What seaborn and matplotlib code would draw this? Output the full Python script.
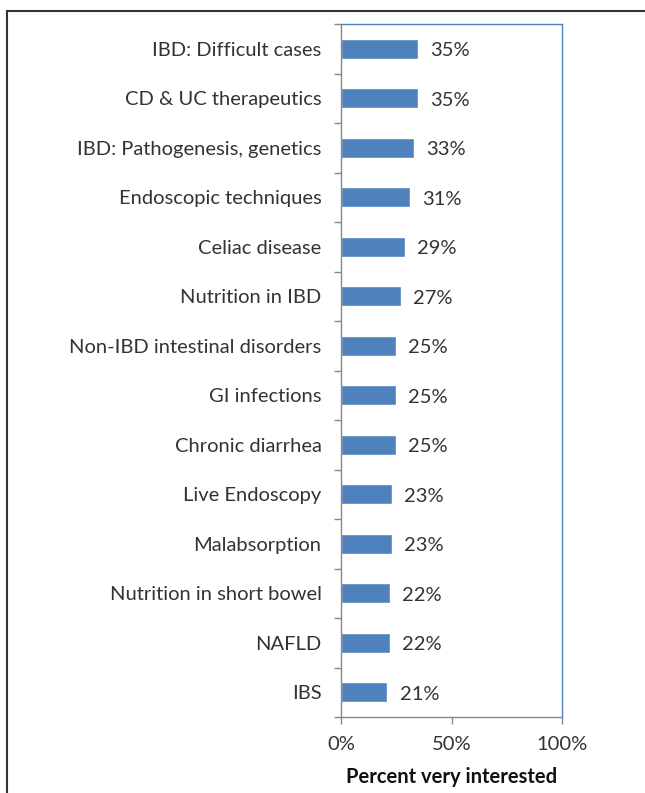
import matplotlib
matplotlib.use("Agg")
import matplotlib.pyplot as plt
import seaborn as sns
import pandas as pd
from matplotlib.lines import Line2D
from matplotlib.ticker import FixedLocator

sns.set_theme(style="white")
plt.rcParams['font.family'] = ['Lato', 'DejaVu Sans']

topics = [
    "IBD: Difficult cases", "CD & UC therapeutics", "IBD: Pathogenesis, genetics",
    "Endoscopic techniques", "Celiac disease", "Nutrition in IBD",
    "Non-IBD intestinal disorders", "GI infections", "Chronic diarrhea",
    "Live Endoscopy", "Malabsorption", "Nutrition in short bowel", "NAFLD", "IBS",
]
pct = [35, 35, 33, 31, 29, 27, 25, 25, 25, 23, 23, 22, 22, 21]
xticks = [0, 50, 100]

df = pd.DataFrame({"topic": topics, "pct": pct})
fs = 14.5

fig = plt.figure(figsize=(6.45, 7.93), dpi=100)
ax = fig.add_axes([341 / 645, 1 - 717 / 793, 221 / 645, 693 / 793])

sns.barplot(data=df, x="pct", y="topic", orient="h", color="#4F81BD",
            width=0.4, saturation=1, ax=ax)

for i, v in enumerate(pct):
    ax.text(v + 5.5, i + 0.04, f"{v}%", va="center", ha="left", fontsize=fs, color="#333333")

ax.set_xlim(0, 100)
ax.set_ylim(len(topics) - 0.5, -0.5)
ax.set_xticks(xticks)
ax.set_xticklabels([f"{t}%" for t in xticks], fontsize=fs, color="#333333")
ax.set_yticklabels(topics, fontsize=fs, color="#333333")
ax.set_ylabel("")
ax.set_xlabel("Percent very interested", fontsize=fs, fontweight="bold",
              color="#111111", labelpad=10)

# category boundary ticks on the y axis
ax.yaxis.set_minor_locator(FixedLocator([i - 0.5 for i in range(len(topics) + 1)]))
ax.tick_params(axis="y", which="major", length=0, pad=14)
ax.tick_params(axis="y", which="minor", length=5, width=1, color="#888888", left=True)
ax.tick_params(axis="x", which="major", length=5, width=1, color="#888888",
               bottom=True, pad=9)

for side in ["left", "bottom"]:
    ax.spines[side].set_color("#888888")
    ax.spines[side].set_linewidth(1)
for side in ["top", "right"]:
    ax.spines[side].set_color("#4F81BD")
    ax.spines[side].set_linewidth(1)

# outer frame of the picture
fig.add_artist(Line2D([7 / 645, 1.0], [1 - 11 / 793, 1 - 11 / 793],
                      transform=fig.transFigure, color="#333333", lw=1.5))
fig.add_artist(Line2D([7 / 645, 7 / 645], [0, 1 - 11 / 793],
                      transform=fig.transFigure, color="#333333", lw=1.5))

fig.savefig("out.png", dpi=100, facecolor="white")
